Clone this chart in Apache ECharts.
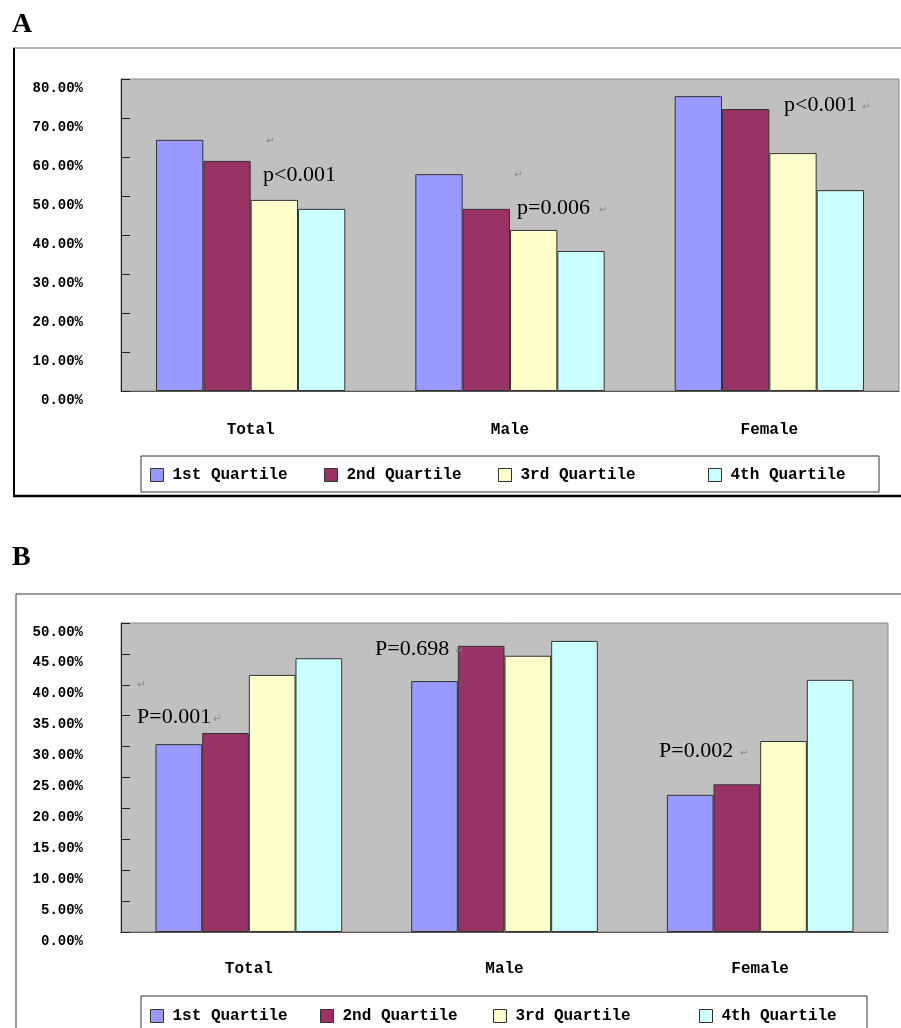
<!DOCTYPE html>
<html><head><meta charset="utf-8">
<script src="https://cdn.jsdelivr.net/npm/echarts@6/dist/echarts.min.js"></script>
<style>html,body{margin:0;padding:0;background:#fff}#c{width:901px;height:1028px}</style>
</head><body><div id="c"></div>
<script>
const categories = ['Total', 'Male', 'Female'];
const quartiles = ['1st Quartile', '2nd Quartile', '3rd Quartile', '4th Quartile'];
const colors = ['#9999FF', '#993366', '#FFFFCC', '#CCFFFF'];
// Panel A values (%)
const panelA_q1 = [64.4, 55.6, 75.6];
const panelA_q2 = [59.0, 46.7, 72.3];
const panelA_q3 = [49.0, 41.3, 61.0];
const panelA_q4 = [46.7, 35.9, 51.5];
// Panel B values (%)
const panelB_q1 = [30.4, 40.6, 22.2];
const panelB_q2 = [32.2, 46.3, 23.9];
const panelB_q3 = [41.6, 44.7, 30.9];
const panelB_q4 = [44.3, 47.1, 40.8];
// Axis ranges
const axisA = { min: 0, max: 80, interval: 10 };
const axisB = { min: 0, max: 50, interval: 5 };
// p-value annotations
const pTextsA = ['p<0.001', 'p=0.006', 'p<0.001'];
const pTextsB = ['P=0.001', 'P=0.698', 'P=0.002'];

const panelA = [panelA_q1, panelA_q2, panelA_q3, panelA_q4];
const panelB = [panelB_q1, panelB_q2, panelB_q3, panelB_q4];

const monoFont = '"Liberation Mono", "DejaVu Sans Mono", monospace';
const serifFont = '"Liberation Serif", "DejaVu Serif", serif';

function xAxis(gi, margin) {
  return {
    type: 'category', gridIndex: gi, data: categories,
    axisLine: { lineStyle: { color: '#555', width: 1 } },
    axisTick: { inside: true, length: 8, lineStyle: { color: '#555' } },
    axisLabel: { margin: margin, fontFamily: monoFont, fontWeight: 'bold', fontSize: 16, color: '#000' },
    splitLine: { show: false }
  };
}
function yAxis(gi, r) {
  return {
    type: 'value', gridIndex: gi, min: r.min, max: r.max, interval: r.interval,
    axisLine: { show: true, lineStyle: { color: '#222', width: 1 } },
    axisTick: { show: true, inside: true, length: 9, lineStyle: { color: '#222' } },
    splitLine: { show: false },
    axisLabel: {
      margin: 38, fontFamily: monoFont, fontWeight: 'bold', fontSize: 14, color: '#000',
      verticalAlign: 'top', lineHeight: 18,
      formatter: v => v.toFixed(2) + '%'
    }
  };
}

const series = [];
[panelA, panelB].forEach((panel, gi) => {
  panel.forEach((vals, qi) => {
    series.push({
      type: 'bar', name: quartiles[qi], xAxisIndex: gi, yAxisIndex: gi,
      data: vals, barGap: '0%', barCategoryGap: '27%',
      itemStyle: { color: colors[qi], borderColor: '#333', borderWidth: 1 },
      emphasis: { disabled: true }
    });
  });
});

function legends(top, lefts) {
  return quartiles.map((q, i) => ({
    data: [q], left: lefts[i], top: top, padding: 0,
    icon: 'rect', itemWidth: 13, itemHeight: 13,
    itemStyle: { borderColor: '#333', borderWidth: 1 },
    textStyle: { fontFamily: monoFont, fontWeight: 'bold', fontSize: 16, color: '#000', padding: [3, 0, 0, 4] },
    selectedMode: false
  }));
}

function txt(x, y, s, size, font, color, weight) {
  return { type: 'text', x: x, y: y, style: { text: s, fontSize: size, fontFamily: font, fill: color || '#000', fontWeight: weight || 'normal', verticalAlign: 'middle' }, z: 100 };
}
const ret = (x, y) => txt(x, y, '\u21B5', 10, '"DejaVu Sans"', '#888');

const graphics = [
  // panel labels
  txt(12, 25, 'A', 28, serifFont, '#000', 'bold'),
  txt(12, 558, 'B', 28, serifFont, '#000', 'bold'),
  // frame A
  { type: 'line', shape: { x1: 13, y1: 48, x2: 901, y2: 48 }, style: { stroke: '#999', lineWidth: 1.5 } },
  { type: 'line', shape: { x1: 14, y1: 48, x2: 14, y2: 497 }, style: { stroke: '#000', lineWidth: 2 } },
  { type: 'line', shape: { x1: 13, y1: 496, x2: 901, y2: 496 }, style: { stroke: '#000', lineWidth: 2.5 } },
  // legend box A
  { type: 'rect', shape: { x: 141, y: 456, width: 738, height: 36 }, style: { fill: '#fff', stroke: '#333', lineWidth: 1 }, z: -1 },
  // frame B
  { type: 'line', shape: { x1: 16, y1: 594, x2: 901, y2: 594 }, style: { stroke: '#777', lineWidth: 1.5 } },
  { type: 'line', shape: { x1: 16, y1: 594, x2: 16, y2: 1028 }, style: { stroke: '#777', lineWidth: 1.5 } },
  // legend box B
  { type: 'rect', shape: { x: 141, y: 996, width: 726, height: 40 }, style: { fill: '#fff', stroke: '#333', lineWidth: 1 }, z: -1 },
  // p-values A
  txt(263, 175, pTextsA[0], 22, serifFont), ret(266, 141),
  txt(517, 208, pTextsA[1], 22, serifFont), ret(514, 175), ret(599, 210),
  txt(784, 105, pTextsA[2], 22, serifFont), ret(862, 107),
  // p-values B
  txt(137, 717, pTextsB[0], 22, serifFont), ret(137, 685), ret(213, 719),
  txt(375, 649, pTextsB[1], 22, serifFont), ret(455, 651),
  txt(659, 751, pTextsB[2], 22, serifFont), ret(740, 753)
];

const chart = echarts.init(document.getElementById('c'), null, { renderer: 'canvas' });
chart.setOption({
  backgroundColor: '#fff',
  animation: false,
  grid: [
    { left: 121, top: 79, width: 778, height: 312, show: true, backgroundColor: '#C0C0C0', borderColor: '#888', borderWidth: 1 },
    { left: 121, top: 623, width: 767, height: 309, show: true, backgroundColor: '#C0C0C0', borderColor: '#888', borderWidth: 1 }
  ],
  xAxis: [xAxis(0, 31), xAxis(1, 29)],
  yAxis: [yAxis(0, axisA), yAxis(1, axisB)],
  legend: legends(467, [150, 324, 498, 708]).concat(legends(1008, [150, 320, 493, 699])),
  series: series,
  graphic: graphics
});
</script></body></html>
